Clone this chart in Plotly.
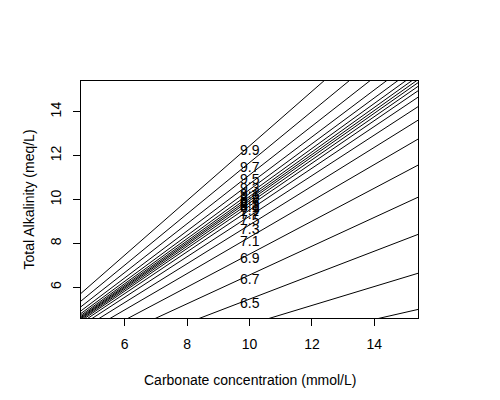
import plotly.graph_objects as go

# pH of each line and the slope of total alkalinity vs carbonate
ph_levels = [6.1, 6.3, 6.5, 6.7, 6.9, 7.1, 7.3, 7.5, 7.7, 7.9,
             8.1, 8.3, 8.5, 8.7, 8.9, 9.1, 9.3, 9.5, 9.7, 9.9]
slopes = [0.324, 0.431, 0.546, 0.656, 0.751, 0.828, 0.884, 0.924, 0.952, 0.971,
          0.984, 0.995, 1.004, 1.014, 1.027, 1.045, 1.071, 1.112, 1.168, 1.244]
carbonate = [0, 20]
label_x = 10
tick_vals = [6, 8, 10, 12, 14]

FONT = "Liberation Sans, Arial, sans-serif"

fig = go.Figure()

for ph, s in zip(ph_levels, slopes):
    fig.add_trace(go.Scatter(
        x=carbonate,
        y=[s * c for c in carbonate],
        mode="lines",
        line=dict(color="black", width=1),
        name=str(ph),
        hoverinfo="skip",
        showlegend=False,
    ))

# pH labels at carbonate = 10 (plotly hides the ones outside the axis range)
labels = [
    dict(x=label_x, y=s * label_x, xref="x", yref="y", text=f"{ph:.1f}",
         showarrow=False, xanchor="center", yanchor="middle", yshift=-4,
         font=dict(family=FONT, size=14, color="black"))
    for ph, s in zip(ph_levels, slopes)
]

axis_style = dict(
    range=[4.6, 15.4],
    tickvals=tick_vals,
    ticks="outside",
    ticklen=7,
    tickwidth=1,
    tickcolor="black",
    showline=True,
    mirror=True,
    linecolor="black",
    linewidth=1,
    showgrid=False,
    zeroline=False,
    tickfont=dict(family=FONT, size=14, color="black"),
)

fig.update_xaxes(**axis_style, ticklabelstandoff=6)
fig.update_yaxes(**axis_style, tickangle=-90, ticklabelstandoff=6)

fig.update_layout(
    width=492,
    height=392,
    margin=dict(l=73, r=82, t=73, b=82),
    paper_bgcolor="white",
    plot_bgcolor="white",
    font=dict(family=FONT, size=14, color="black"),
    annotations=labels + [
        dict(text="Carbonate concentration (mmol/L)", xref="paper", yref="paper",
             x=0.5, y=0, xanchor="center", yanchor="middle", yshift=-62,
             showarrow=False, font=dict(family=FONT, size=14, color="black")),
        dict(text="Total Alkalinity (meq/L)", xref="paper", yref="paper",
             x=0, y=0.5, xanchor="center", yanchor="middle", xshift=-53,
             textangle=-90, showarrow=False,
             font=dict(family=FONT, size=14, color="black")),
    ],
)

fig.write_html("out.html")
